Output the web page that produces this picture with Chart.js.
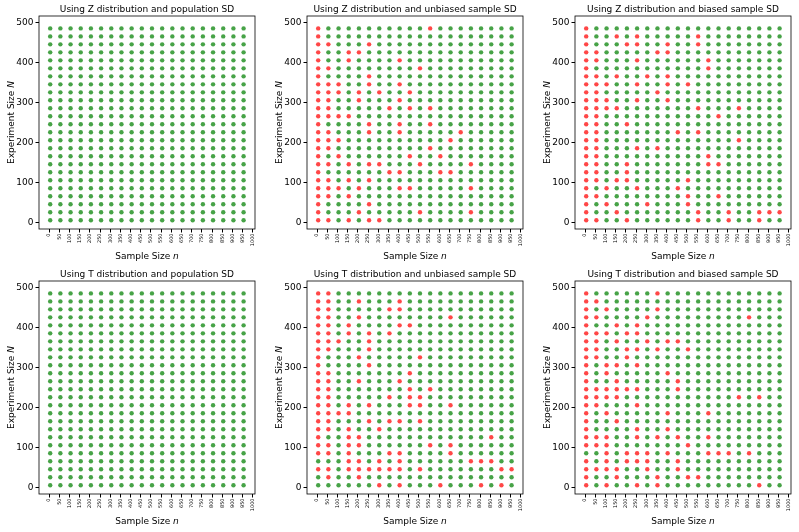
<!DOCTYPE html>
<html>
<head>
<meta charset="utf-8">
<script src="https://cdn.jsdelivr.net/npm/chart.js@4.4.1/dist/chart.umd.min.js"></script>
<style>
  body { margin: 0; background: #fff; }
  #wrap { position: relative; width: 799px; height: 532px; }
  #wrap canvas { position: absolute; }
</style>
</head>
<body>
<div id="wrap"></div>
<script>
// grade de pontos: tamanho da amostra (n) x tamanho do experimento (N)
var sampleSizes = [5, 55, 105, 155, 205, 255, 305, 355, 405, 455, 505, 555, 605, 655, 705, 755, 805, 855, 905, 955];
var experimentSizes = [485, 465, 445, 425, 405, 385, 365, 345, 325, 305, 285, 265, 245, 225, 205, 185, 165, 145, 125, 105, 85, 65, 45, 25, 5];
var xTickLabels = [0, 50, 100, 150, 200, 250, 300, 350, 400, 450, 500, 550, 600, 650, 700, 750, 800, 850, 900, 950, 1000];
var yTickLabels = [0, 100, 200, 300, 400, 500];

var panelTitles = [
    'Using Z distribution and population SD',
    'Using Z distribution and unbiased sample SD',
    'Using Z distribution and biased sample SD',
    'Using T distribution and population SD',
    'Using T distribution and unbiased sample SD',
    'Using T distribution and biased sample SD'
];

// pontos vermelhos (intervalo falhou): N -> lista de n
var zPopulationRed = {};
var zUnbiasedRed = {
    485: [5, 555], 465: [5], 445: [5, 55, 255], 425: [5, 155, 205], 405: [5, 155, 405],
    385: [5, 55, 505], 365: [5, 255], 345: [5, 55, 105, 255, 405], 325: [5, 55, 105, 205, 305, 455],
    305: [5, 55, 205, 405], 285: [5, 55, 355, 455, 555], 265: [5, 55, 105, 155], 245: [5, 255, 405, 555],
    225: [5, 55, 255, 405, 705], 205: [5, 55, 105, 655], 185: [5, 55, 555], 165: [5, 105, 455, 605],
    145: [5, 55, 155, 255, 305, 505, 755], 125: [5, 355, 405, 605, 655], 105: [5, 55, 155, 255],
    85: [5, 55, 105, 205, 405, 455, 755], 65: [5, 55, 155], 45: [5, 255], 25: [5, 205, 505, 755],
    5: [5, 55, 155, 255, 305]
};
var zBiasedRed = {
    485: [5], 465: [5, 155, 255, 555], 445: [5, 205, 255, 405, 555], 425: [5, 55, 355, 405],
    405: [5, 55, 255, 605], 385: [5, 605], 365: [5, 55, 155, 305, 405], 345: [5, 55, 105, 255, 405, 505],
    325: [5, 55, 355], 305: [5, 55, 105, 255, 405], 285: [5, 55, 105, 155, 555, 755], 265: [5, 55, 655],
    245: [5, 55, 205], 225: [5, 55, 455, 555], 205: [5, 55, 755], 185: [5, 55, 255, 355],
    165: [5, 55, 605], 145: [5, 55, 205, 605, 655], 125: [5, 55, 205], 105: [5, 55, 155, 205, 505],
    85: [5, 105, 255, 455], 65: [5, 55, 505, 655], 45: [5, 105, 305, 505],
    25: [5, 155, 555, 705, 855, 905, 955], 5: [5, 55, 205, 555, 705, 855]
};
var tPopulationRed = {};
var tUnbiasedRed = {
    485: [5, 55], 465: [5, 55, 205, 405], 445: [5, 55, 355, 405], 425: [5, 55, 205, 655],
    405: [5, 55, 155, 405, 455], 385: [5, 55, 155, 255, 355], 365: [5, 55, 105, 255], 345: [5, 55, 255],
    325: [5, 205, 505], 305: [5, 255], 285: [5, 55, 455], 265: [5, 55, 205, 405], 245: [5, 55, 455, 555],
    225: [5, 55, 355, 455, 505], 205: [5, 55, 155, 255, 455, 505, 655], 185: [5, 55, 105, 155],
    165: [5, 55, 255, 355, 405, 505], 145: [5, 55, 155, 305], 125: [5, 155, 205, 855],
    105: [5, 55, 155, 205, 555, 655], 85: [5, 55, 155, 355, 405, 655],
    65: [155, 205, 305, 405, 755, 805, 855], 45: [5, 55, 155, 205, 255, 305, 355, 405, 505, 905, 955],
    25: [55, 205], 5: [305, 405, 605, 805, 905]
};
var tBiasedRed = {
    485: [5, 355], 465: [5, 55], 445: [5, 105, 355], 425: [5, 55, 305, 805], 405: [5, 155, 255],
    385: [5, 55, 105, 205, 255], 365: [5, 55, 155, 305, 405, 455], 345: [5, 55, 205, 255, 355, 505],
    325: [5, 55, 205], 305: [5, 105, 155, 255], 285: [5, 105, 405], 265: [5, 155, 455],
    245: [5, 55, 105, 155, 205, 255, 455], 225: [5, 55, 105, 155, 755, 855], 205: [5, 55, 255],
    185: [5, 105, 405, 605], 165: [5, 155], 145: [5, 255, 405], 125: [5, 55, 105, 255, 355, 455, 605],
    105: [5, 55, 105, 505], 85: [105, 205, 255, 305, 405, 605, 655, 705, 805],
    65: [5, 105, 205, 255, 305, 455], 45: [5, 55, 105, 155, 305, 455], 25: [5, 155, 355, 505, 555],
    5: [5, 105, 255, 355, 855]
};
var panelReds = [zPopulationRed, zUnbiasedRed, zBiasedRed, tPopulationRed, tUnbiasedRed, tBiasedRed];

// posição da caixa de cada gráfico na página
var boxLefts = [39, 307, 575];
var boxTops = [16, 281];

// desenha a moldura e os títulos dos eixos (com n e N em itálico)
var framePlugin = {
    id: 'frame',
    afterDraw: function (chart) {
        var ctx = chart.ctx, a = chart.chartArea;
        ctx.save();
        ctx.strokeStyle = '#000';
        ctx.lineWidth = 0.8;
        ctx.strokeRect(a.left, a.top, a.right - a.left, a.bottom - a.top);
        ctx.fillStyle = '#000';
        ctx.textBaseline = 'middle';
        mixedText(ctx, 'Sample Size ', 'n', (a.left + a.right) / 2, 257);
        ctx.translate(12, (a.top + a.bottom) / 2);
        ctx.rotate(-Math.PI / 2);
        mixedText(ctx, 'Experiment Size ', 'N', 0, 0);
        ctx.restore();
    }
};

function mixedText(ctx, plain, ital, cx, cy) {
    var f1 = '9px "DejaVu Sans"', f2 = 'italic 9px "DejaVu Sans"';
    ctx.font = f1;
    var w1 = ctx.measureText(plain).width;
    ctx.font = f2;
    var w2 = ctx.measureText(ital).width;
    var x = cx - (w1 + w2) / 2;
    ctx.textAlign = 'left';
    ctx.font = f1;
    ctx.fillText(plain, x, cy);
    ctx.font = f2;
    ctx.fillText(ital, x + w1, cy);
}

function panelPoints(red) {
    var green = [], reds = [];
    experimentSizes.forEach(function (N) {
        var row = red[N] || [];
        sampleSizes.forEach(function (n) {
            if (row.indexOf(n) >= 0) reds.push({ x: n, y: N });
            else green.push({ x: n, y: N });
        });
    });
    return { green: green, red: reds };
}

function fixedTicks(list) {
    return function (scale) {
        scale.ticks = list.map(function (v) { return { value: v }; });
    };
}

function plainLabel(v) { return String(v); }

function drawPanel(i) {
    var canvas = document.createElement('canvas');
    var W = 263, H = 266;
    canvas.width = W; canvas.height = H;
    canvas.style.width = W + 'px'; canvas.style.height = H + 'px';
    canvas.style.left = (boxLefts[i % 3] - 39) + 'px';
    canvas.style.top = (boxTops[Math.floor(i / 3)] - 16) + 'px';
    document.getElementById('wrap').appendChild(canvas);

    var pts = panelPoints(panelReds[i]);
    new Chart(canvas.getContext('2d'), {
        type: 'scatter',
        data: {
            datasets: [
                { data: pts.green, backgroundColor: 'rgba(0,128,0,0.72)', borderWidth: 0, pointRadius: 2.2 },
                { data: pts.red, backgroundColor: 'rgba(255,0,0,0.72)', borderWidth: 0, pointRadius: 2.2 }
            ]
        },
        plugins: [framePlugin],
        options: {
            responsive: false,
            animation: false,
            devicePixelRatio: 1,
            layout: { padding: { left: 0, right: 8, top: 0, bottom: 0 } },
            plugins: {
                legend: { display: false },
                tooltip: { enabled: false },
                title: {
                    display: true,
                    fullSize: false,
                    text: panelTitles[i],
                    color: '#000',
                    font: { family: 'DejaVu Sans', size: 9, weight: 'normal', lineHeight: 1.2 },
                    padding: { top: 4, bottom: 1.2 }
                }
            },
            scales: {
                x: {
                    type: 'linear',
                    min: -50,
                    max: 1011,
                    afterBuildTicks: fixedTicks(xTickLabels),
                    afterFit: function (s) { s.height = 37; },
                    border: { display: false },
                    grid: { drawOnChartArea: false, drawTicks: true, tickLength: 3.5, color: '#000' },
                    ticks: {
                        autoSkip: false,
                        minRotation: 90,
                        maxRotation: 90,
                        padding: 1,
                        color: '#000',
                        callback: plainLabel,
                        font: { family: 'DejaVu Sans', size: 5 }
                    }
                },
                y: {
                    type: 'linear',
                    min: -17,
                    max: 516,
                    afterBuildTicks: fixedTicks(yTickLabels),
                    afterFit: function (s) { s.width = 39; },
                    border: { display: false },
                    grid: { drawOnChartArea: false, drawTicks: true, tickLength: 3.5, color: '#000' },
                    ticks: {
                        padding: 2,
                        color: '#000',
                        callback: plainLabel,
                        font: { family: 'DejaVu Sans', size: 9 }
                    }
                }
            }
        }
    });
}

window.onload = function () {
    for (var i = 0; i < 6; i++) drawPanel(i);
};
</script>
</body>
</html>
